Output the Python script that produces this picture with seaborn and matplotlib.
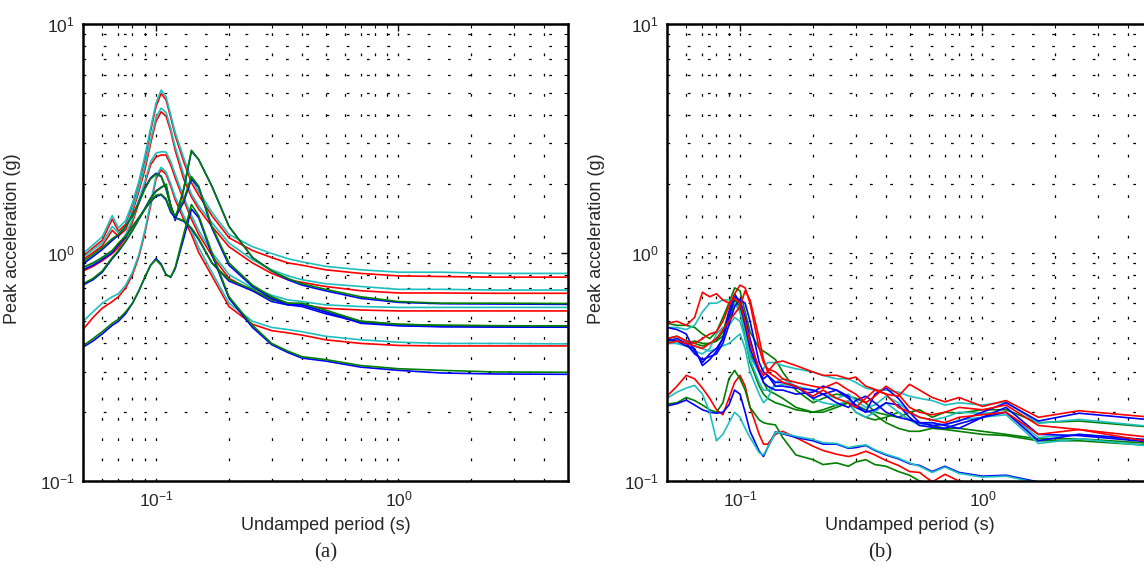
import matplotlib
matplotlib.use("Agg")
import matplotlib.pyplot as plt
import matplotlib.ticker as mticker
import seaborn as sns

# -------------------------------
# data
# -------------------------------
# panel (a): periods (s)
period_a = [0.05, 0.055, 0.06, 0.066, 0.07, 0.075, 0.08, 0.085, 0.09, 0.095,
            0.1, 0.105, 0.11, 0.115, 0.12, 0.13, 0.14, 0.15, 0.17, 0.2,
            0.25, 0.3, 0.35, 0.4, 0.5, 0.7, 1.0, 1.5, 2.5, 5.0]

a_red_1 = [0.96, 1.05, 1.13, 1.4, 1.24, 1.33, 1.6, 2.0, 2.55, 3.4, 4.35, 4.97, 4.65, 3.9, 3.25,
           2.5, 2.02, 1.78, 1.45, 1.16, 1.02, 0.95, 0.9, 0.88, 0.84, 0.81, 0.79, 0.785, 0.78, 0.78]
a_cyan_1 = [0.99, 1.08, 1.17, 1.45, 1.28, 1.38, 1.65, 2.05, 2.65, 3.5, 4.5, 5.14, 4.8, 4.0, 3.35,
            2.6, 2.1, 1.85, 1.5, 1.2, 1.06, 0.99, 0.94, 0.91, 0.87, 0.84, 0.82, 0.82, 0.81, 0.81]
a_red_2 = [0.93, 1.0, 1.07, 1.25, 1.18, 1.26, 1.5, 1.85, 2.3, 3.0, 3.75, 4.13, 3.95, 3.4, 2.8,
           2.1, 1.75, 1.55, 1.3, 1.06, 0.9, 0.81, 0.76, 0.74, 0.71, 0.68, 0.665, 0.665, 0.663, 0.663]
a_cyan_2 = [0.95, 1.03, 1.1, 1.3, 1.22, 1.3, 1.55, 1.9, 2.4, 3.1, 3.9, 4.28, 4.1, 3.5, 2.9,
            2.2, 1.8, 1.6, 1.35, 1.1, 0.93, 0.84, 0.79, 0.76, 0.73, 0.71, 0.69, 0.69, 0.685, 0.685]
a_red_3 = [0.83, 0.87, 0.92, 0.99, 1.05, 1.16, 1.36, 1.65, 2.0, 2.42, 2.62, 2.67, 2.67, 2.42, 2.12,
           1.7, 1.4, 1.2, 0.97, 0.77, 0.68, 0.63, 0.6, 0.59, 0.57, 0.56, 0.555, 0.555, 0.555, 0.555]
a_cyan_3 = [0.86, 0.9, 0.95, 1.02, 1.08, 1.2, 1.4, 1.7, 2.05, 2.5, 2.72, 2.76, 2.75, 2.5, 2.2,
            1.75, 1.45, 1.25, 1.0, 0.8, 0.7, 0.65, 0.62, 0.61, 0.59, 0.58, 0.575, 0.575, 0.575, 0.575]
a_red_4 = [0.46, 0.52, 0.57, 0.61, 0.64, 0.7, 0.8, 0.96, 1.22, 1.6, 2.1, 2.3, 2.2, 1.95, 1.7,
           1.4, 1.2, 1.0, 0.79, 0.58, 0.485, 0.455, 0.445, 0.435, 0.415, 0.4, 0.392, 0.39, 0.39, 0.39]
a_cyan_4 = [0.5, 0.55, 0.6, 0.64, 0.66, 0.72, 0.82, 0.98, 1.25, 1.65, 2.15, 2.36, 2.25, 2.0, 1.75,
            1.45, 1.25, 1.05, 0.82, 0.6, 0.5, 0.47, 0.46, 0.45, 0.43, 0.415, 0.405, 0.4, 0.4, 0.398]

a_blue_1 = [0.89, 0.96, 1.03, 1.13, 1.19, 1.3, 1.45, 1.66, 1.92, 2.12, 2.22, 2.16, 1.9, 1.6, 1.42,
            1.37, 1.27, 1.14, 0.9, 0.75, 0.68, 0.61, 0.59, 0.58, 0.54, 0.495, 0.48, 0.475, 0.473, 0.472]
a_green_1 = [0.91, 0.98, 1.05, 1.15, 1.2, 1.3, 1.45, 1.65, 1.9, 2.1, 2.2, 2.15, 1.9, 1.6, 1.42,
             1.38, 1.28, 1.15, 0.9, 0.76, 0.69, 0.62, 0.6, 0.59, 0.55, 0.5, 0.485, 0.48, 0.478, 0.477]
a_blue_2 = [0.72, 0.76, 0.82, 0.94, 1.01, 1.12, 1.25, 1.4, 1.56, 1.73, 1.86, 1.93, 1.98, 1.6, 1.38,
            1.88, 2.78, 2.55, 1.95, 1.3, 0.95, 0.83, 0.76, 0.72, 0.68, 0.63, 0.605, 0.597, 0.595, 0.593]
a_green_2 = [0.73, 0.77, 0.83, 0.95, 1.02, 1.12, 1.25, 1.4, 1.55, 1.72, 1.85, 1.92, 1.99, 1.6, 1.4,
             1.9, 2.8, 2.55, 1.95, 1.3, 0.95, 0.83, 0.77, 0.73, 0.69, 0.64, 0.61, 0.6, 0.6, 0.598]
a_blue_3 = [0.84, 0.88, 0.93, 1.0, 1.08, 1.17, 1.3, 1.42, 1.55, 1.67, 1.76, 1.79, 1.7, 1.5, 1.42,
            1.66, 2.1, 1.93, 1.28, 0.88, 0.71, 0.63, 0.59, 0.59, 0.55, 0.49, 0.478, 0.473, 0.472, 0.471]
a_green_3 = [0.86, 0.9, 0.95, 1.02, 1.1, 1.18, 1.3, 1.42, 1.55, 1.68, 1.78, 1.8, 1.72, 1.52, 1.45,
             1.7, 2.15, 1.95, 1.3, 0.9, 0.72, 0.64, 0.6, 0.6, 0.56, 0.5, 0.485, 0.48, 0.478, 0.477]
a_blue_4 = [0.385, 0.41, 0.44, 0.48, 0.5, 0.54, 0.6, 0.68, 0.78, 0.88, 0.94, 0.89, 0.8, 0.78, 0.85,
            1.15, 1.55, 1.42, 0.98, 0.63, 0.47, 0.395, 0.365, 0.345, 0.335, 0.315, 0.305, 0.297, 0.294, 0.293]
a_green_4 = [0.39, 0.42, 0.45, 0.49, 0.51, 0.55, 0.6, 0.68, 0.78, 0.88, 0.93, 0.88, 0.8, 0.78, 0.86,
             1.2, 1.62, 1.45, 1.0, 0.64, 0.48, 0.4, 0.37, 0.35, 0.34, 0.32, 0.31, 0.305, 0.3, 0.299]

# panel (b): periods (s)
period_b = [0.05, 0.055, 0.06, 0.065, 0.07, 0.075, 0.08, 0.085, 0.09, 0.095,
            0.1, 0.105, 0.11, 0.12, 0.125, 0.13, 0.14, 0.15, 0.17, 0.2,
            0.22, 0.25, 0.28, 0.3, 0.33, 0.36, 0.4, 0.45, 0.5, 0.55,
            0.62, 0.7, 0.8, 1.0, 1.25, 1.7, 2.5, 5.0]

b_red_1 = [0.49, 0.5, 0.48, 0.52, 0.67, 0.64, 0.66, 0.62, 0.6, 0.63, 0.6, 0.5, 0.4, 0.31, 0.29, 0.3, 0.33, 0.335, 0.32,
           0.3, 0.29, 0.29, 0.28, 0.285, 0.26, 0.252, 0.24, 0.235, 0.265, 0.25, 0.232, 0.222, 0.232, 0.212, 0.225, 0.19, 0.203, 0.19]
b_red_2 = [0.42, 0.43, 0.41, 0.4, 0.42, 0.44, 0.45, 0.5, 0.58, 0.66, 0.72, 0.7, 0.6, 0.38, 0.33, 0.31, 0.3, 0.28, 0.27,
           0.26, 0.255, 0.27, 0.25, 0.24, 0.22, 0.235, 0.26, 0.24, 0.21, 0.2, 0.195, 0.2, 0.21, 0.205, 0.215, 0.175, 0.168, 0.155]
b_red_3 = [0.4, 0.41, 0.4, 0.39, 0.38, 0.4, 0.42, 0.46, 0.5, 0.54, 0.58, 0.68, 0.62, 0.42, 0.34, 0.3, 0.285, 0.27, 0.26,
           0.235, 0.25, 0.23, 0.22, 0.21, 0.23, 0.25, 0.24, 0.21, 0.2, 0.19, 0.185, 0.18, 0.19, 0.195, 0.2, 0.16, 0.168, 0.148]
b_blue_1 = [0.47, 0.46, 0.44, 0.37, 0.33, 0.36, 0.38, 0.42, 0.52, 0.64, 0.62, 0.52, 0.42, 0.3, 0.28, 0.29, 0.27, 0.27, 0.26,
            0.23, 0.24, 0.25, 0.235, 0.21, 0.2, 0.24, 0.255, 0.23, 0.2, 0.18, 0.175, 0.177, 0.183, 0.2, 0.22, 0.183, 0.198, 0.185]
b_blue_2 = [0.41, 0.42, 0.4, 0.36, 0.34, 0.35, 0.36, 0.4, 0.48, 0.58, 0.62, 0.6, 0.5, 0.33, 0.3, 0.29, 0.26, 0.26, 0.255,
            0.25, 0.24, 0.22, 0.21, 0.225, 0.235, 0.22, 0.2, 0.19, 0.185, 0.18, 0.18, 0.175, 0.17, 0.19, 0.2, 0.15, 0.16, 0.151]
b_blue_3 = [0.42, 0.41, 0.39, 0.38, 0.32, 0.34, 0.37, 0.42, 0.55, 0.66, 0.6, 0.48, 0.38, 0.3, 0.27, 0.26, 0.25, 0.25, 0.24,
            0.245, 0.26, 0.25, 0.23, 0.215, 0.2, 0.205, 0.22, 0.215, 0.19, 0.175, 0.172, 0.17, 0.178, 0.19, 0.21, 0.16, 0.158, 0.148]
b_cyan_1 = [0.47, 0.47, 0.46, 0.48, 0.55, 0.6, 0.6, 0.62, 0.62, 0.6, 0.55, 0.45, 0.35, 0.3, 0.31, 0.33, 0.33, 0.32, 0.31,
            0.3, 0.29, 0.28, 0.28, 0.27, 0.255, 0.25, 0.25, 0.245, 0.235, 0.23, 0.225, 0.215, 0.22, 0.215, 0.222, 0.179, 0.186, 0.173]
b_cyan_2 = [0.41, 0.4, 0.39, 0.37, 0.36, 0.38, 0.44, 0.47, 0.48, 0.52, 0.5, 0.42, 0.34, 0.27, 0.25, 0.25, 0.26, 0.265, 0.26,
            0.25, 0.24, 0.23, 0.24, 0.225, 0.21, 0.215, 0.235, 0.22, 0.2, 0.19, 0.185, 0.19, 0.2, 0.198, 0.2, 0.155, 0.16, 0.151]
b_cyan_3 = [0.4, 0.4, 0.39, 0.39, 0.38, 0.37, 0.38, 0.39, 0.4, 0.42, 0.44, 0.38, 0.3, 0.24, 0.22, 0.23, 0.27, 0.28, 0.26,
            0.23, 0.22, 0.215, 0.225, 0.2, 0.19, 0.2, 0.22, 0.2, 0.185, 0.175, 0.18, 0.175, 0.185, 0.19, 0.195, 0.146, 0.153, 0.142]
b_green_1 = [0.49, 0.48, 0.48, 0.47, 0.44, 0.42, 0.45, 0.52, 0.6, 0.7, 0.68, 0.55, 0.45, 0.38, 0.37, 0.36, 0.34, 0.3, 0.25,
             0.22, 0.23, 0.24, 0.235, 0.23, 0.22, 0.2, 0.195, 0.19, 0.2, 0.205, 0.19, 0.2, 0.198, 0.205, 0.205, 0.18, 0.183, 0.172]
b_green_2 = [0.42, 0.43, 0.41, 0.4, 0.39, 0.4, 0.41, 0.43, 0.5, 0.62, 0.58, 0.45, 0.36, 0.3, 0.27, 0.25, 0.24, 0.23, 0.21,
             0.2, 0.205, 0.215, 0.22, 0.2, 0.19, 0.185, 0.19, 0.2, 0.185, 0.18, 0.175, 0.17, 0.17, 0.165, 0.16, 0.153, 0.153, 0.146]
b_green_3 = [0.41, 0.41, 0.4, 0.41, 0.4, 0.4, 0.41, 0.45, 0.55, 0.6, 0.56, 0.42, 0.33, 0.26, 0.24, 0.23, 0.22, 0.215, 0.205,
             0.2, 0.2, 0.21, 0.22, 0.215, 0.205, 0.195, 0.18, 0.17, 0.165, 0.165, 0.17, 0.168, 0.165, 0.16, 0.158, 0.15, 0.15, 0.143]

# lower group in panel (b)
b_red_low = [0.235, 0.26, 0.29, 0.28, 0.255, 0.23, 0.205, 0.195, 0.23, 0.27, 0.29, 0.26, 0.21, 0.16, 0.145, 0.145, 0.16, 0.165, 0.155,
             0.142, 0.136, 0.131, 0.128, 0.13, 0.135, 0.13, 0.123, 0.117, 0.11, 0.109, 0.099, 0.107, 0.1, 0.096, 0.094, 0.088, 0.083, 0.075]
b_cyan_low = [0.23, 0.245, 0.255, 0.262, 0.24, 0.2, 0.15, 0.16, 0.18, 0.2, 0.19, 0.17, 0.155, 0.133, 0.13, 0.14, 0.163, 0.162, 0.157,
              0.152, 0.147, 0.146, 0.14, 0.142, 0.144, 0.137, 0.131, 0.126, 0.12, 0.116, 0.109, 0.115, 0.108, 0.104, 0.105, 0.098, 0.094, 0.088]
b_blue_low = [0.213, 0.218, 0.226, 0.215, 0.205, 0.2, 0.198, 0.2, 0.215, 0.25, 0.24, 0.2, 0.165, 0.135, 0.128, 0.14, 0.164, 0.161, 0.155,
              0.15, 0.145, 0.145, 0.139, 0.14, 0.143, 0.136, 0.13, 0.125, 0.119, 0.117, 0.11, 0.116, 0.109, 0.105, 0.106, 0.099, 0.095, 0.09]
b_green_low = [0.217, 0.22, 0.232, 0.225, 0.215, 0.205, 0.2, 0.22, 0.28, 0.305, 0.28, 0.25, 0.21, 0.185, 0.18, 0.178, 0.176, 0.155, 0.13,
               0.124, 0.118, 0.12, 0.116, 0.121, 0.124, 0.118, 0.116, 0.11, 0.106, 0.1, 0.097, 0.1, 0.093, 0.09, 0.088, 0.084, 0.08, 0.075]

RED, CYAN, BLUE, GREEN = "#ff0000", "#1fbfbf", "#0000ff", "#007f00"

curves_a = [
    (a_red_1, RED), (a_cyan_1, CYAN), (a_red_2, RED), (a_cyan_2, CYAN),
    (a_red_3, RED), (a_cyan_3, CYAN), (a_red_4, RED), (a_cyan_4, CYAN),
    (a_blue_1, BLUE), (a_green_1, GREEN), (a_blue_2, BLUE), (a_green_2, GREEN),
    (a_blue_3, BLUE), (a_green_3, GREEN), (a_blue_4, BLUE), (a_green_4, GREEN),
]
curves_b = [
    (b_red_low, RED), (b_green_low, GREEN), (b_blue_low, BLUE), (b_cyan_low, CYAN),
    (b_green_1, GREEN), (b_green_2, GREEN), (b_green_3, GREEN),
    (b_cyan_1, CYAN), (b_cyan_2, CYAN), (b_cyan_3, CYAN),
    (b_blue_1, BLUE), (b_blue_2, BLUE), (b_blue_3, BLUE),
    (b_red_1, RED), (b_red_2, RED), (b_red_3, RED),
]

sns.set_style("white")
plt.rcParams["font.family"] = ["Liberation Sans", "DejaVu Sans"]
plt.rcParams["mathtext.default"] = "regular"

fig = plt.figure(figsize=(11.44, 5.69), dpi=100)
W, H = 1144, 569
ax_a = fig.add_axes([83 / W, (H - 481) / H, 485 / W, 457 / H])
ax_b = fig.add_axes([667 / W, (H - 481) / H, 485 / W, 457 / H])


def draw_panel(ax, periods, curves, right_ticks=True):
    for values, color in curves:
        sns.lineplot(x=periods, y=values, color=color, lw=1.2, estimator=None,
                     sort=False, ax=ax)
    ax.set_xscale("log")
    ax.set_yscale("log")
    ax.set_xlim(0.05, 5)
    ax.set_ylim(0.1, 10)
    ax.xaxis.set_major_locator(mticker.LogLocator(base=10))
    ax.yaxis.set_major_locator(mticker.LogLocator(base=10))
    ax.xaxis.set_minor_locator(mticker.LogLocator(base=10, subs=range(2, 10)))
    ax.yaxis.set_minor_locator(mticker.LogLocator(base=10, subs=range(2, 10)))
    ax.xaxis.set_minor_formatter(mticker.NullFormatter())
    ax.yaxis.set_minor_formatter(mticker.NullFormatter())
    ax.grid(True, which="both", color="black", linestyle=(0, (2.2, 14)), lw=0.9)
    ax.tick_params(which="both", direction="in", top=True, right=right_ticks,
                   labelsize=12.5, color="black")
    ax.tick_params(which="major", length=5, width=1, pad=6)
    ax.tick_params(which="minor", length=3, width=0.8)
    for side in ax.spines.values():
        side.set_color("black")
        side.set_linewidth(1.8)
    ax.set_xlabel("Undamped period (s)", fontsize=13)
    ax.set_ylabel("Peak acceleration (g)", fontsize=13)
    ax.xaxis.set_label_coords(0.5, -0.078)
    ax.yaxis.set_label_coords(-0.128, 0.53)


draw_panel(ax_a, period_a, curves_a)
draw_panel(ax_b, period_b, curves_b, right_ticks=False)

fig.text(326 / W, 1 - 553 / H, "(a)", ha="center", va="center", fontsize=15,
         family="Liberation Serif")
fig.text(880 / W, 1 - 553 / H, "(b)", ha="center", va="center", fontsize=15,
         family="Liberation Serif")

fig.savefig("out.png", dpi=100)
plt.close(fig)
